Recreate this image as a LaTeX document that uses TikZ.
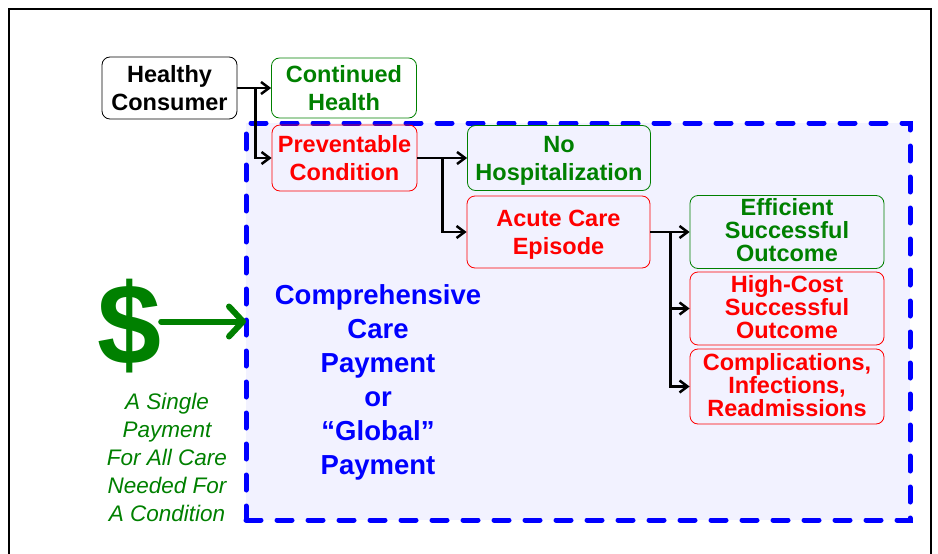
\documentclass[tikz,border=0pt]{standalone}
\usepackage{fontspec}
\setmainfont{Liberation Sans}
\usetikzlibrary{arrows.meta}

\definecolor{goodgreen}{RGB}{0,128,0}
\definecolor{badred}{RGB}{255,0,0}
\definecolor{payblue}{RGB}{0,0,255}
\definecolor{paylavender}{RGB}{242,242,255}

\tikzset{
  stage/.style={draw, rounded corners=8pt, align=center, inner sep=0pt, line width=0.8pt,
    font=\fontsize{23.5}{28}\selectfont\bfseries},
  threeline/.style={font=\fontsize{23.5}{23}\selectfont\bfseries, text depth=4pt},
  goodstage/.style={stage, draw=goodgreen, text=goodgreen},
  badstage/.style={stage, draw=badred, text=badred},
  flow/.style={-{Straight Barb[length=8pt,width=12pt]}, line width=2.5pt},
}

\begin{document}
\begin{tikzpicture}[x=1pt,y=-1pt]
  \useasboundingbox (0,0) rectangle (938,554);
  % slide frame, open at the bottom
  \draw[line width=1.5pt] (9,554) -- (9,9) -- (931,9) -- (931,554);

  % area covered by the single payment
  \node[draw=payblue, fill=paylavender, line width=5pt, dash pattern=on 15pt off 16pt,
    line cap=round, outer sep=0pt, inner sep=0pt,
    minimum width=664pt, minimum height=397pt] (gp) at (578,321.5) {};

  \node[stage, minimum width=135pt, minimum height=62pt] (hc) at (169.5,88) {Healthy\\Consumer};
  \node[goodstage, minimum width=145pt, minimum height=60pt] (ch) at (344,88) {Continued\\Health};
  \node[badstage, minimum width=145pt, minimum height=66pt] (pc) at (344.5,158) {Preventable\\Condition};
  \node[goodstage, text depth=0pt, minimum width=183pt, minimum height=65pt] (nh) at (559,158) {No\\Hospitalization};
  \node[badstage, text depth=0pt, minimum width=183pt, minimum height=72pt] (ace) at (558.5,232) {Acute Care\\Episode};
  \node[goodstage, threeline, minimum width=194pt, minimum height=73pt] (eso) at (787,232) {Efficient\\Successful\\Outcome};
  \node[badstage, threeline, minimum width=194pt, minimum height=73pt] (hcs) at (787,308.5) {High-Cost\\Successful\\Outcome};
  \node[badstage, threeline, minimum width=194pt, minimum height=75pt] (cir) at (787,386.5) {Complications,\\Infections,\\Readmissions};

  % branch points
  \coordinate (j1) at ([xshift=18pt]hc.east);
  \coordinate (j2) at ([xshift=25pt]pc.east);
  \coordinate (j3) at ([xshift=20pt]ace.east);

  \draw[flow] (hc.east) -- (ch.west);
  \draw[flow] (j1) |- (pc.west);
  \draw[flow] (pc.east) -- (nh.west);
  \draw[flow] (j2) |- (ace.west);
  \draw[flow] (ace.east) -- (eso.west);
  \draw[flow] (j3) |- (hcs.west);
  \draw[flow] (j3) |- (cir.west);

  \node[text=payblue, align=center, font=\fontsize{27.5}{34}\selectfont\bfseries] (gpt) at (378,382)
    {Comprehensive\\Care\\Payment\\or\\“Global”\\Payment};

  \node[text=goodgreen, inner sep=0pt, font=\fontsize{115}{115}\selectfont\bfseries] (dollar) at (129,326) {\$};
  \draw[goodgreen, line width=6pt, line cap=round,
    -{Straight Barb[round,length=14pt,width=30pt]}] (dollar.east |- gp.west) -- (gp.west);

  \node[text=goodgreen, align=center, font=\fontsize{22.5}{28}\selectfont\itshape] (single) at (167,457)
    {A Single\\Payment\\For All Care\\Needed For\\A Condition};
\end{tikzpicture}
\end{document}
